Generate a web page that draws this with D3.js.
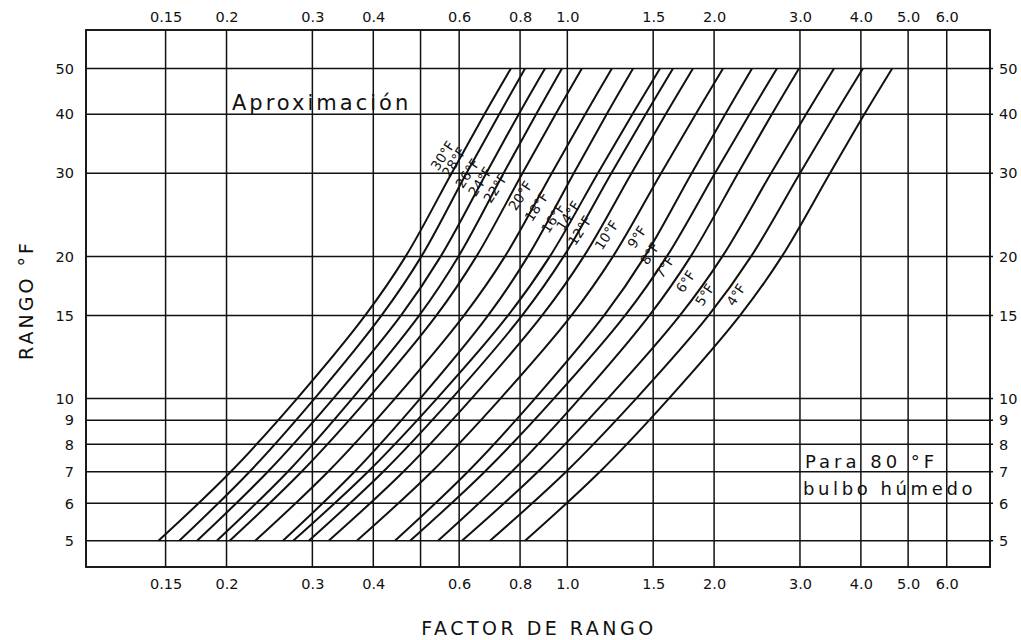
<!DOCTYPE html>
<html>
<head>
<meta charset="utf-8">
<script src="https://cdn.jsdelivr.net/npm/d3@7"></script>
<style>
  body { margin: 0; background: #fff; }
  svg text { font-family: "DejaVu Sans", sans-serif; fill: #111; }
</style>
</head>
<body>
<svg id="chart" width="1021" height="640"></svg>
<script>
// grid / tick values
const factorTicks = [0.15, 0.2, 0.3, 0.4, 0.5, 0.6, 0.8, 1.0, 1.5, 2.0, 3.0, 4.0, 5.0, 6.0];
const factorLabels = ['0.15', '0.2', '0.3', '0.4', '', '0.6', '0.8', '1.0', '1.5', '2.0', '3.0', '4.0', '5.0', '6.0'];
const rangeTicks = [5, 6, 7, 8, 9, 10, 15, 20, 30, 40, 50];

// range (°F) levels at which every curve was read
const rangeLevels = [5, 7, 10, 15, 20, 30, 40, 50];

// factor de rango, one value per range level
const c30 = [0.145, 0.204, 0.279, 0.385, 0.466, 0.579, 0.676, 0.766];
const c28 = [0.160, 0.223, 0.303, 0.416, 0.502, 0.621, 0.725, 0.819];
const c26 = [0.174, 0.243, 0.331, 0.456, 0.550, 0.682, 0.795, 0.900];
const c24 = [0.191, 0.267, 0.362, 0.497, 0.598, 0.740, 0.863, 0.975];
const c22 = [0.203, 0.285, 0.390, 0.539, 0.651, 0.809, 0.946, 1.071];
const c20 = [0.229, 0.323, 0.443, 0.614, 0.745, 0.929, 1.088, 1.234];
const c18 = [0.261, 0.366, 0.499, 0.688, 0.830, 1.031, 1.204, 1.364];
const c16 = [0.274, 0.390, 0.540, 0.756, 0.921, 1.155, 1.360, 1.549];
const c14 = [0.295, 0.419, 0.579, 0.808, 0.983, 1.231, 1.448, 1.647];
const c12 = [0.324, 0.461, 0.636, 0.888, 1.081, 1.354, 1.591, 1.810];
const c10 = [0.370, 0.527, 0.729, 1.020, 1.241, 1.557, 1.833, 2.086];
const c9 = [0.443, 0.625, 0.858, 1.190, 1.442, 1.799, 2.108, 2.392];
const c8 = [0.476, 0.677, 0.938, 1.314, 1.600, 2.008, 2.364, 2.691];
const c7 = [0.543, 0.769, 1.059, 1.474, 1.791, 2.239, 2.627, 2.986];
const c6 = [0.608, 0.870, 1.210, 1.702, 2.080, 2.617, 3.088, 3.523];
const c5 = [0.694, 0.994, 1.384, 1.949, 2.382, 3.000, 3.539, 4.038];
const c4 = [0.819, 1.166, 1.615, 2.261, 2.755, 3.457, 4.066, 4.637];

const approach = [30, 28, 26, 24, 22, 20, 18, 16, 14, 12, 10, 9, 8, 7, 6, 5, 4];
const curveFactors = [c30, c28, c26, c24, c22, c20, c18, c16, c14, c12, c10, c9, c8, c7, c6, c5, c4];
// range (°F) where each curve's label sits
const labelRange = [32.7, 31.7, 30.0, 28.8, 27.9, 26.9, 25.5, 24.1, 24.4, 22.7, 22.2, 22.0, 20.3, 19.0, 17.7, 16.6, 16.6];

const svg = d3.select('#chart');

const x = d3.scaleLog()
  .domain([0.103, 7.36])
  .range([86, 990]);

const y = d3.scaleLog()
  .domain([4.40, 60.3])
  .range([567, 30]);

const [plotLeft, plotRight] = x.range();
const [plotBottom, plotTop] = y.range();

const grid = svg.append('g')
  .attr('class', 'grid')
  .attr('stroke', '#111')
  .attr('stroke-width', 1.5);

grid.selectAll('.vline')
  .data(factorTicks)
  .enter()
  .append('line')
  .attr('class', 'vline')
  .attr('x1', d => x(d))
  .attr('x2', d => x(d))
  .attr('y1', plotTop)
  .attr('y2', plotBottom);

grid.selectAll('.hline')
  .data(rangeTicks)
  .enter()
  .append('line')
  .attr('class', 'hline')
  .attr('x1', plotLeft)
  .attr('x2', plotRight + 3)
  .attr('y1', d => y(d))
  .attr('y2', d => y(d));

svg.append('rect')
  .attr('x', plotLeft)
  .attr('y', plotTop)
  .attr('width', plotRight - plotLeft)
  .attr('height', plotBottom - plotTop)
  .attr('fill', 'none')
  .attr('stroke', '#111')
  .attr('stroke-width', 1.9);

// tick labels through d3 axes, no tick marks
const fmtFactor = d => factorLabels[factorTicks.indexOf(d)];

const axes = [
  { axis: d3.axisTop(x).tickValues(factorTicks).tickFormat(fmtFactor).tickSize(0).tickPadding(8.5), tr: `translate(0,${plotTop})` },
  { axis: d3.axisBottom(x).tickValues(factorTicks).tickFormat(fmtFactor).tickSize(0).tickPadding(11.5), tr: `translate(0,${plotBottom})` },
  { axis: d3.axisLeft(y).tickValues(rangeTicks).tickFormat(d3.format('d')).tickSize(0).tickPadding(12), tr: `translate(${plotLeft},0)` },
  { axis: d3.axisRight(y).tickValues(rangeTicks).tickFormat(d3.format('d')).tickSize(0).tickPadding(9), tr: `translate(${plotRight},0)` },
];

axes.forEach(a => {
  const g = svg.append('g')
    .attr('transform', a.tr)
    .call(a.axis);
  g.select('.domain').remove();
  g.selectAll('text')
    .attr('font-family', '"DejaVu Sans", sans-serif')
    .attr('font-size', 14.5)
    .attr('fill', '#111');
});

// curves
const line = d3.line()
  .curve(d3.curveCatmullRom.alpha(0.5))
  .x(d => x(d[0]))
  .y(d => y(d[1]));

const curves = svg.append('g').attr('class', 'curves');

curves.selectAll('path')
  .data(curveFactors)
  .enter()
  .append('path')
  .attr('fill', 'none')
  .attr('stroke', '#111')
  .attr('stroke-width', 2)
  .attr('d', f => line(f.map((v, i) => [v, rangeLevels[i]])));

// factor on a curve at a given range, for label placement
const factorAt = (f, r) => {
  let i = 0;
  while (i < rangeLevels.length - 2 && rangeLevels[i + 1] < r) i++;
  const t = Math.log(r / rangeLevels[i]) / Math.log(rangeLevels[i + 1] / rangeLevels[i]);
  return Math.exp(Math.log(f[i]) + t * Math.log(f[i + 1] / f[i]));
};

curves.selectAll('text')
  .data(approach)
  .enter()
  .append('text')
  .attr('font-size', 13.5)
  .attr('text-anchor', 'middle')
  .attr('dominant-baseline', 'central')
  .attr('transform', (d, i) => {
    const r = labelRange[i];
    const px = x(factorAt(curveFactors[i], r)) - 19;
    return `translate(${px},${y(r)}) rotate(-57)`;
  })
  .text(d => `${d}°F`);

// annotations
svg.append('text')
  .attr('x', 232)
  .attr('y', 110)
  .attr('font-size', 21)
  .attr('letter-spacing', 3)
  .text('Aproximación');

svg.append('text')
  .attr('x', 805)
  .attr('y', 468)
  .attr('font-size', 18)
  .attr('letter-spacing', 4)
  .text('Para 80 °F');

svg.append('text')
  .attr('x', 803)
  .attr('y', 495)
  .attr('font-size', 18)
  .attr('letter-spacing', 3.6)
  .text('bulbo húmedo');

// axis titles
svg.append('text')
  .attr('x', 539)
  .attr('y', 635)
  .attr('font-size', 19)
  .attr('letter-spacing', 3.5)
  .attr('text-anchor', 'middle')
  .text('FACTOR DE RANGO');

svg.append('text')
  .attr('transform', 'translate(33,300) rotate(-90)')
  .attr('font-size', 19)
  .attr('letter-spacing', 3)
  .attr('text-anchor', 'middle')
  .text('RANGO °F');
</script>
</body>
</html>
